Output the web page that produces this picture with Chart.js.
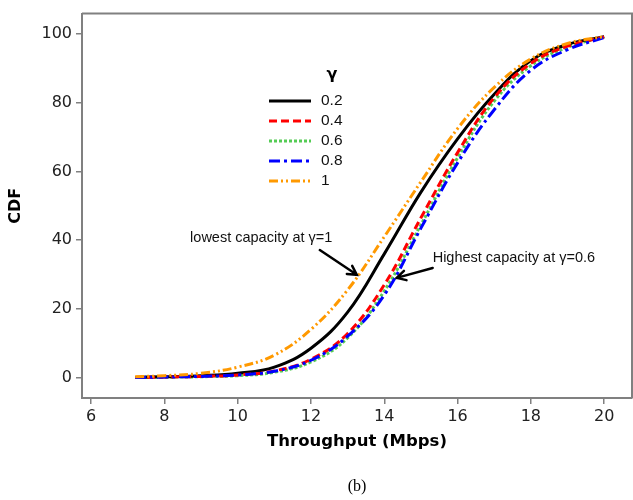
<!DOCTYPE html>
<html lang="en">
  <head>
    <meta charset="UTF-8" />
    <title>Throughput CDF</title>
    <script src="https://cdn.jsdelivr.net/npm/chart.js"></script>
    <style>
      html, body { margin: 0; padding: 0; background: #fff; }
      #wrap { width: 633px; height: 500px; }
    </style>
  </head>
  <body>
    <div id="wrap"><canvas id="cdfChart"></canvas></div>
    <script>
      // throughput values (Mbps) where each curve was read
      const throughput = [7.2, 8, 9, 10, 11, 12, 13, 14, 15, 16, 17, 18, 19, 20];

      // CDF (%) for each gamma
      const cdfGamma02 = [0, 0.2, 0.5, 1.2, 3.0, 8.5, 19, 36, 54, 69.5, 82.5, 92.3, 97, 99.3];
      const cdfGamma04 = [0, 0.1, 0.3, 0.7, 1.9, 5.3, 12.8, 27, 46.5, 65.5, 81.5, 91.5, 96.5, 99.2];
      const cdfGamma06 = [0, 0.05, 0.2, 0.5, 1.5, 4.5, 11.5, 25.2, 44.5, 64, 80.5, 90.8, 96.2, 99.2];
      const cdfGamma08 = [0, 0.1, 0.3, 0.7, 1.8, 5.0, 12, 24, 43.5, 62.5, 78, 89.5, 95.5, 99];
      const cdfGamma1 = [0.2, 0.5, 1.2, 3.0, 6.5, 14, 25.5, 41, 57, 72.5, 84.5, 92.8, 97.3, 99.3];

      const gammaLabels = ["0.2", "0.4", "0.6", "0.8", "1"];
      const xTicks = [6, 8, 10, 12, 14, 16, 18, 20];
      const yTicks = [0, 20, 40, 60, 80, 100];

      const axisGray = "#808080";

      function toPoints(ys) {
        return throughput.map((x, i) => ({ x: x, y: ys[i] }));
      }

      // annotations, placed in data units
      const notes = [
        { text: "lowest capacity at \u03b3=1", x: 8.7, y: 40.5, from: [12.24, 37.1], to: [13.25, 29.9] },
        { text: "Highest capacity at \u03b3=0.6", x: 15.32, y: 34.8, from: [15.32, 31.9], to: [14.34, 29.0] },
      ];

      // frame around plot, arrows + notes, legend, caption
      const extras = {
        id: "extras",
        beforeDatasetsDraw(chart) {
          const { ctx, chartArea: a } = chart;
          ctx.save();
          ctx.strokeStyle = axisGray;
          ctx.lineWidth = 2;
          ctx.beginPath();
          ctx.moveTo(a.left, a.top);
          ctx.lineTo(a.right, a.top);
          ctx.lineTo(a.right, a.bottom);
          ctx.stroke();
          ctx.restore();
        },
        afterDatasetsDraw(chart) {
          const { ctx, chartArea: a } = chart;
          const xs = chart.scales.x;
          const ys = chart.scales.y;
          ctx.save();

          // notes and arrows
          ctx.fillStyle = "#111";
          ctx.font = '14.5px "Liberation Sans"';
          ctx.textBaseline = "middle";
          ctx.textAlign = "left";
          notes.forEach((n) => {
            ctx.fillText(n.text, xs.getPixelForValue(n.x), ys.getPixelForValue(n.y));
            const x1 = xs.getPixelForValue(n.from[0]);
            const y1 = ys.getPixelForValue(n.from[1]);
            const x2 = xs.getPixelForValue(n.to[0]);
            const y2 = ys.getPixelForValue(n.to[1]);
            const ang = Math.atan2(y2 - y1, x2 - x1);
            ctx.strokeStyle = "#000";
            ctx.lineWidth = 2.5;
            ctx.lineCap = "round";
            ctx.beginPath();
            ctx.moveTo(x1, y1);
            ctx.lineTo(x2, y2);
            ctx.moveTo(x2 - 10 * Math.cos(ang - 0.5), y2 - 10 * Math.sin(ang - 0.5));
            ctx.lineTo(x2, y2);
            ctx.lineTo(x2 - 10 * Math.cos(ang + 0.5), y2 - 10 * Math.sin(ang + 0.5));
            ctx.stroke();
          });

          // legend
          ctx.lineCap = "butt";
          ctx.fillStyle = "#000";
          ctx.font = 'bold 16px "DejaVu Sans"';
          ctx.textAlign = "center";
          ctx.fillText("\u03b3", 332, 75);
          ctx.font = '15.5px "Liberation Sans"';
          ctx.textAlign = "left";
          chart.data.datasets.forEach((ds, i) => {
            const yy = 101 + i * 20;
            ctx.strokeStyle = ds.borderColor;
            ctx.lineWidth = 3;
            ctx.setLineDash(ds.borderDash || []);
            ctx.beginPath();
            ctx.moveTo(269, yy);
            ctx.lineTo(311, yy);
            ctx.stroke();
            ctx.setLineDash([]);
            ctx.fillStyle = "#111";
            ctx.fillText(ds.label, 321, yy);
          });

          // caption
          ctx.fillStyle = "#000";
          ctx.font = '16px "Liberation Serif"';
          ctx.textAlign = "center";
          ctx.fillText("(b)", (a.left + a.right) / 2, 487);
          ctx.restore();
        },
      };

      const lineBase = {
        borderWidth: 3,
        pointRadius: 0,
        fill: false,
        tension: 0.4,
      };

      new Chart(document.getElementById("cdfChart"), {
        type: "line",
        data: {
          datasets: [
            { ...lineBase, label: gammaLabels[0], data: toPoints(cdfGamma02), borderColor: "#000000", borderDash: [], order: 4 },
            { ...lineBase, label: gammaLabels[1], data: toPoints(cdfGamma04), borderColor: "#ff0000", borderDash: [8, 4], order: 3 },
            { ...lineBase, label: gammaLabels[2], data: toPoints(cdfGamma06), borderColor: "#55cc55", borderDash: [3, 2], order: 5 },
            { ...lineBase, label: gammaLabels[3], data: toPoints(cdfGamma08), borderColor: "#0000ff", borderDash: [11, 4, 3, 4], order: 2 },
            { ...lineBase, label: gammaLabels[4], data: toPoints(cdfGamma1), borderColor: "#ff9900", borderDash: [9, 3, 2, 3, 2, 3], order: 1 },
          ],
        },
        options: {
          responsive: true,
          maintainAspectRatio: false,
          animation: false,
          layout: { padding: { top: 8, right: 1, bottom: 28, left: 0 } },
          plugins: { legend: { display: false }, tooltip: { enabled: false } },
          scales: {
            x: {
              type: "linear",
              min: 5.75,
              max: 20.76,
              afterBuildTicks: (axis) => {
                axis.ticks = xTicks.map((v) => ({ value: v }));
              },
              afterFit: (axis) => {
                axis.height = 74;
              },
              border: { color: axisGray, width: 2 },
              grid: { drawOnChartArea: false, drawTicks: true, tickLength: 6, color: axisGray, lineWidth: 1.5 },
              ticks: { color: "#222", font: { family: "DejaVu Sans", size: 16 }, padding: 3, maxRotation: 0 },
              title: {
                display: true,
                text: "Throughput (Mbps)",
                color: "#000",
                font: { family: "DejaVu Sans", size: 16.5, weight: "bold" },
                padding: { top: 0, bottom: 20 },
              },
            },
            y: {
              min: -6,
              max: 106,
              afterBuildTicks: (axis) => {
                axis.ticks = yTicks.map((v) => ({ value: v }));
              },
              afterFit: (axis) => {
                axis.width = 82;
              },
              border: { color: axisGray, width: 2 },
              grid: { drawOnChartArea: false, drawTicks: true, tickLength: 6, color: axisGray, lineWidth: 1.5 },
              ticks: { color: "#222", font: { family: "DejaVu Sans", size: 16 }, padding: 4 },
              title: {
                display: true,
                text: "CDF",
                color: "#000",
                font: { family: "DejaVu Sans", size: 16, weight: "bold" },
                padding: { top: 6, bottom: 0 },
              },
            },
          },
        },
        plugins: [extras],
      });
    </script>
  </body>
</html>
